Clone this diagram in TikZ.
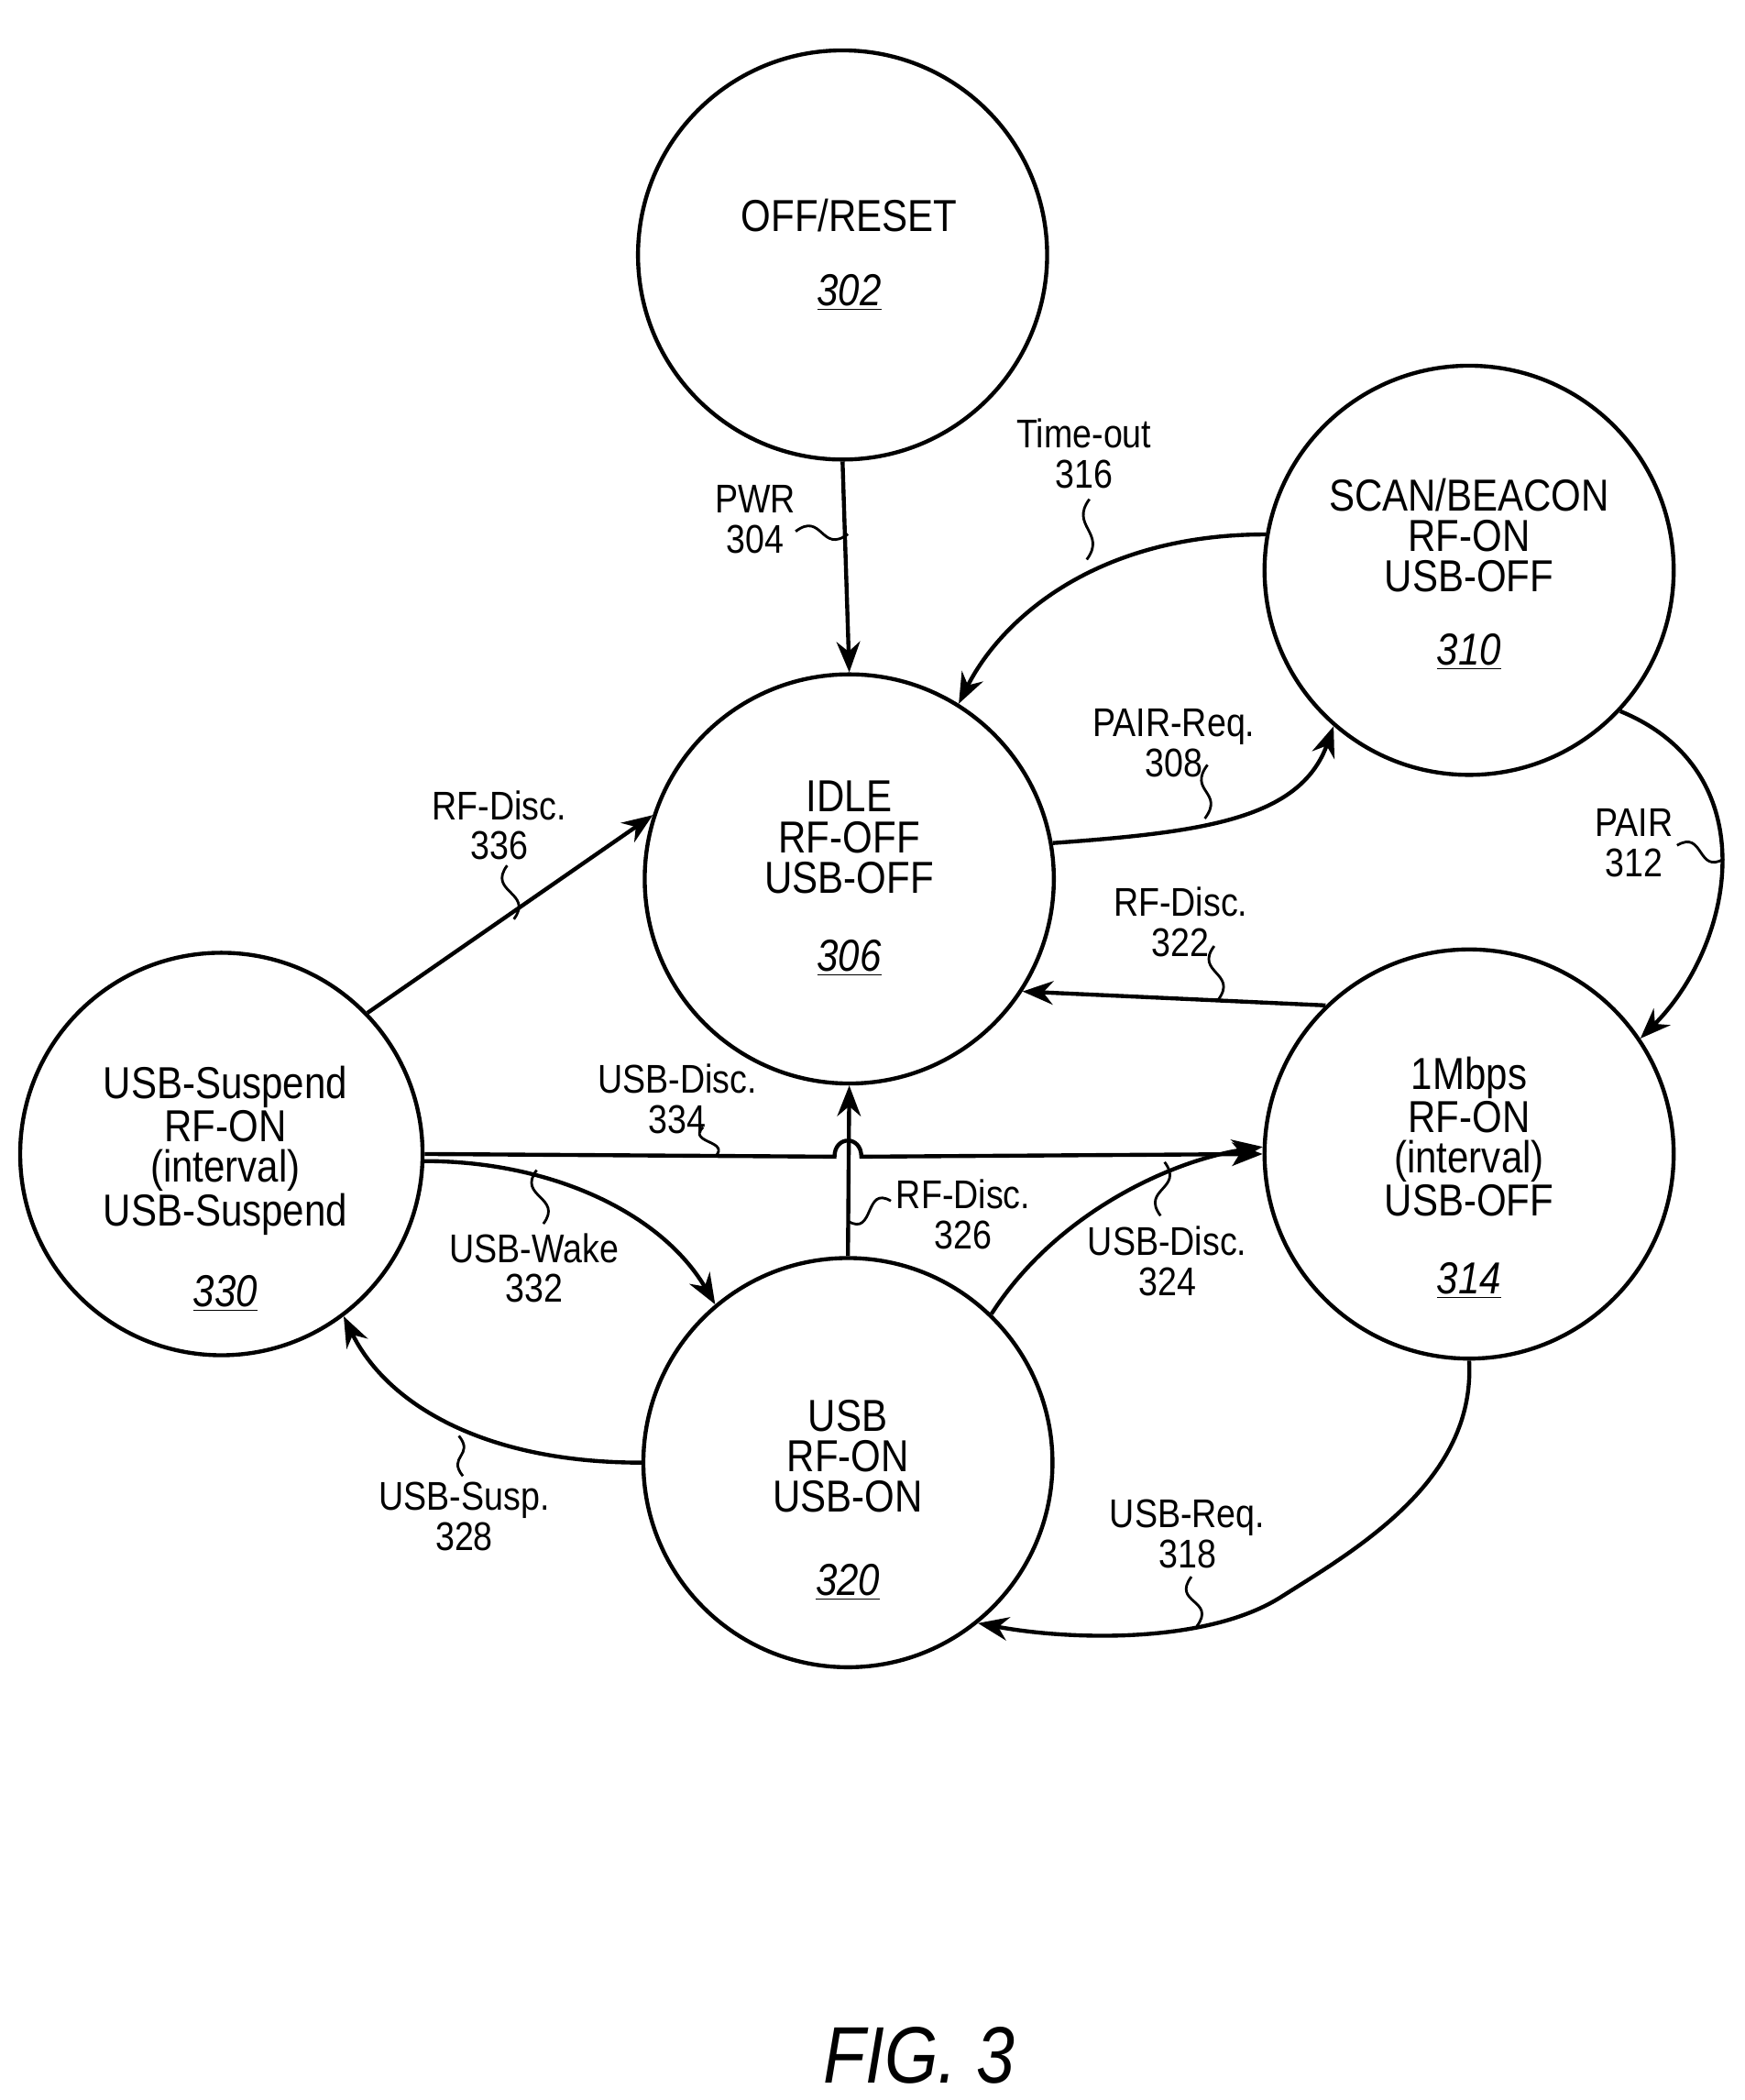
\documentclass[tikz,border=0pt]{standalone}
\usepackage{fontspec}
\setmainfont{Liberation Sans}[FakeStretch=0.86]
\usetikzlibrary{arrows.meta}
\begin{document}
\begin{tikzpicture}[x=0.02cm,y=-0.02cm,
  st/.style={draw,circle,line width=1.7pt,minimum size=6.1cm,inner sep=0pt},
  sm/.style={draw,circle,line width=1.7pt,minimum size=6.0cm,inner sep=0pt},
  tx/.style={align=center,font=\fontsize{19}{17.2}\selectfont,inner sep=0pt},
  lb/.style={align=center,font=\fontsize{17}{17}\selectfont,inner sep=0pt},
  ed/.style={line width=1.7pt,-{Stealth[length=13pt,width=10pt]}},
  ld/.style={line width=1.1pt}]
\useasboundingbox (0,0) rectangle (1300,1565);
\node[st] (s302) at (628,190) {};
\node[st] (s306) at (633,655) {};
\node[st] (s310) at (1095,425) {};
\node[st] (s314) at (1095,860) {};
\node[st] (s320) at (632,1090) {};
\node[sm] (s330) at (165,860) {};
\node[tx] (t302) at (633,190) {OFF/RESET\\[14pt]\textit{\underline{302}}};
\node[tx] (t306) at (633,655) {IDLE\\RF-OFF\\USB-OFF\\[16pt]\textit{\underline{306}}};
\node[tx] (t310) at (1095,428) {SCAN/BEACON\\RF-ON\\USB-OFF\\[14pt]\textit{\underline{310}}};
\node[tx] (t314) at (1095,878) {1Mbps\\RF-ON\\(interval)\\USB-OFF\\[16pt]\textit{\underline{314}}};
\node[tx] (t320) at (632,1118) {USB\\RF-ON\\USB-ON\\[18pt]\textit{\underline{320}}};
\node[tx] (t330) at (168,886) {USB-Suspend\\RF-ON\\(interval)\\USB-Suspend\\[16pt]\textit{\underline{330}}};
% edges
\draw[ed] (s302.south) -- (s306.north);
\draw[ed] (s310.170) .. controls +(-130,0) and +(30,-60) .. (s306.58);
\draw[ed] (s306.10) .. controls +(110,-8) and +(-25,70) .. (s310.229);
\draw[ed] (s310.317) .. controls +(110,45) and +(70,-70) .. (s314.34);
\draw[ed] (s314.134) -- (s306.327);
\draw[ed] (s330.44) -- (s306.162);
\draw[ed] (s330.east) -- (622,862) .. controls (622,846) and (642,846) .. (642,862) -- (s314.west);
\draw[ed] (s320.north) -- (s306.south);
\draw[ed] (s330.-2) .. controls +(95,0) and +(-40,-68) .. (s320.130);
\draw[ed] (s320.46) .. controls +(48,-75) and +(-68,10) .. (s314.178);
\draw[ed] (s320.west) .. controls +(-118,0) and +(32,65) .. (s330.307);
\coordinate (k318) at (955,1190);
\draw[ed] (s314.south) .. controls +(5,90) and +(55,-35) .. (k318) .. controls +(-55,35) and +(70,13) .. (s320.309);
% labels
\node[lb] (l304) at (563,387) {PWR\\304};
\node[lb] (l316) at (808,338) {Time-out\\316};
\node[lb] (l308) at (875,554) {PAIR-Req.\\308};
\node[lb] (l312) at (1218,628) {PAIR\\312};
\node[lb] (l322) at (880,687) {RF-Disc.\\322};
\node[lb] (l336) at (372,615) {RF-Disc.\\336};
\node[lb] (l334) at (505,819) {USB-Disc.\\334};
\node[lb] (l326) at (718,905) {RF-Disc.\\326};
\node[lb] (l332) at (398,945) {USB-Wake\\332};
\node[lb] (l324) at (870,940) {USB-Disc.\\324};
\node[lb] (l328) at (346,1130) {USB-Susp.\\328};
\node[lb] (l318) at (885,1143) {USB-Req.\\318};
\node[font=\fontsize{34}{34}\selectfont\itshape] (fig) at (685,1532) {FIG. 3};
% leaders
\coordinate (a304) at (632,398); \draw[ld] (593,396) .. controls +(20,-15) and +(-20,15) .. (a304);
\coordinate (a316) at (810,417); \draw[ld] (812,372) .. controls +(-15,20) and +(15,-20) .. (a316);
\coordinate (a308) at (898,610); \draw[ld] (900,570) .. controls +(-15,20) and +(15,-20) .. (a308);
\coordinate (a312) at (1285,640); \draw[ld] (1250,630) .. controls +(20,-12) and +(-20,12) .. (a312);
\coordinate (a322) at (908,745); \draw[ld] (905,705) .. controls +(-15,20) and +(15,-20) .. (a322);
\coordinate (a336) at (383,685); \draw[ld] (378,645) .. controls +(-15,20) and +(15,-20) .. (a336);
\coordinate (a334) at (533,862); \draw[ld] (524,840) .. controls +(-12,12) and +(12,-12) .. (a334);
\coordinate (a326) at (632,910); \draw[ld] (664,895) .. controls +(-20,-12) and +(20,12) .. (a326);
\coordinate (a332) at (405,912); \draw[ld] (400,872) .. controls +(-15,20) and +(15,-20) .. (a332);
\coordinate (a324) at (868,866); \draw[ld] (865,906) .. controls +(-15,-20) and +(15,20) .. (a324);
\coordinate (a328) at (342,1070); \draw[ld] (345,1100) .. controls +(-12,-15) and +(12,15) .. (a328);
\coordinate (a318) at (892,1212); \draw[ld] (888,1175) .. controls +(-15,20) and +(15,-20) .. (a318);
\end{tikzpicture}
\end{document}
